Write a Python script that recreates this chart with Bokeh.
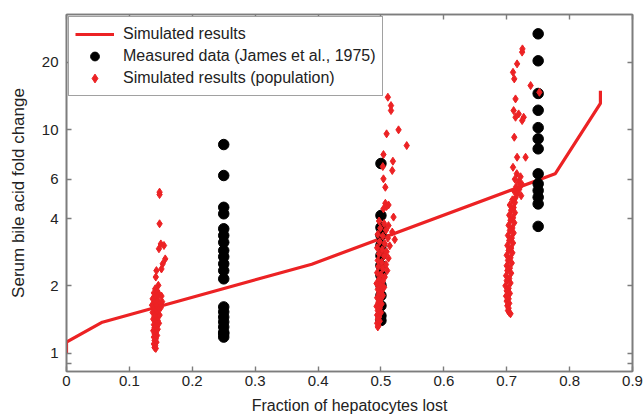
from bokeh.plotting import figure
from bokeh.models import (Range1d, FixedTicker, LogAxis, LinearAxis, Legend, LegendItem,
                          CustomJSTickFormatter)
from bokeh.embed import file_html
from bokeh.resources import INLINE

# ---- data ----
line_x = [0.0, 0.0, 0.057, 0.39, 0.777, 0.849, 0.849]
line_y = [1.0, 1.12, 1.376, 2.5, 6.34, 13.1, 14.9]

meas_x = [0.25] * 20 + [0.5] * 13 + [0.75] * 13
meas_y = [8.57, 6.23, 4.49, 4.20, 3.60, 3.36, 3.13, 2.88, 2.70, 2.51, 2.34, 2.15,
          1.61, 1.53, 1.45, 1.38, 1.31, 1.24, 1.18, 1.22,
          7.05, 4.13, 3.65, 3.37, 3.03, 2.73, 2.47, 2.23, 2.01, 1.81, 1.63, 1.47, 1.40,
          26.8, 20.3, 14.5, 12.2, 10.2, 9.09, 8.20, 6.34, 5.72, 5.34, 4.98, 4.65, 3.69]

pop1_x = [0.148, 0.148, 0.148, 0.150, 0.155, 0.147, 0.157, 0.153, 0.151, 0.143, 0.142, 0.146, 0.141,
          0.144, 0.139, 0.147, 0.151, 0.142, 0.137, 0.145, 0.152, 0.140, 0.148, 0.136, 0.143, 0.150,
          0.139, 0.146, 0.141, 0.137, 0.144, 0.148, 0.140, 0.143, 0.138, 0.145, 0.141, 0.147, 0.139,
          0.143, 0.140, 0.145, 0.138, 0.142, 0.140, 0.144, 0.139, 0.142, 0.140, 0.143, 0.139, 0.141,
          0.140, 0.142]
pop1_y = [5.25, 5.12, 3.79, 3.08, 3.03, 2.93, 2.64, 2.51, 2.38, 2.34, 2.19, 2.01, 1.94,
          1.90, 1.86, 1.84, 1.80, 1.78, 1.75, 1.73, 1.70, 1.68, 1.66, 1.64, 1.62, 1.60,
          1.58, 1.56, 1.54, 1.52, 1.50, 1.48, 1.46, 1.44, 1.42, 1.40, 1.38, 1.36, 1.34,
          1.32, 1.30, 1.28, 1.26, 1.24, 1.22, 1.20, 1.18, 1.16, 1.14, 1.12, 1.10, 1.08,
          1.06, 1.05]

pop2_x = [0.511, 0.516, 0.516, 0.528, 0.509, 0.541, 0.504, 0.519, 0.503, 0.518, 0.504, 0.507,
          0.507, 0.512, 0.509, 0.504, 0.520,
          0.497, 0.505, 0.512, 0.499, 0.508, 0.518, 0.495, 0.503, 0.511, 0.522, 0.498, 0.506,
          0.514, 0.494, 0.502, 0.509, 0.497, 0.505, 0.512, 0.495, 0.501, 0.508, 0.496, 0.503,
          0.510, 0.494, 0.500, 0.506, 0.497, 0.503, 0.493, 0.499, 0.505, 0.495, 0.501, 0.497,
          0.503, 0.494, 0.499, 0.496, 0.501, 0.493, 0.498, 0.495, 0.500, 0.494, 0.497, 0.495,
          0.498, 0.494, 0.496, 0.495]
pop2_y = [13.95, 12.8, 12.16, 9.97, 9.57, 8.48, 7.73, 7.22, 6.83, 6.56, 6.02, 5.52,
          4.68, 4.60, 4.53, 4.42, 4.06,
          3.90, 3.80, 3.72, 3.62, 3.55, 3.48, 3.40, 3.34, 3.27, 3.22, 3.15, 3.09,
          3.02, 2.96, 2.90, 2.84, 2.78, 2.72, 2.66, 2.60, 2.55, 2.49, 2.44, 2.39,
          2.34, 2.29, 2.24, 2.19, 2.14, 2.10, 2.05, 2.01, 1.97, 1.93, 1.89, 1.85,
          1.81, 1.77, 1.73, 1.69, 1.66, 1.62, 1.59, 1.55, 1.52, 1.48, 1.45, 1.42,
          1.39, 1.36, 1.33, 1.31]

pop3_x = [0.725, 0.7245, 0.7165, 0.710, 0.712, 0.738, 0.752, 0.714, 0.711, 0.719, 0.727, 0.7245,
          0.714, 0.712, 0.7165, 0.730, 0.710,
          0.716, 0.722, 0.713, 0.719, 0.724, 0.715, 0.720, 0.712, 0.717, 0.723, 0.714,
          0.709, 0.713, 0.705, 0.711, 0.707, 0.713, 0.704, 0.710, 0.706, 0.712, 0.703, 0.709,
          0.705, 0.711, 0.702, 0.708, 0.704, 0.710, 0.701, 0.707, 0.703, 0.709, 0.700, 0.706,
          0.702, 0.708, 0.700, 0.705, 0.701, 0.707, 0.699, 0.704, 0.700, 0.706, 0.698, 0.703,
          0.700, 0.705, 0.699, 0.703, 0.700, 0.704, 0.701, 0.703, 0.702, 0.704, 0.706]
pop3_y = [22.95, 22.2, 19.67, 18.03, 16.85, 15.73, 14.68, 13.71, 12.16, 11.75, 11.35, 10.97,
          11.35, 9.24, 7.52, 7.52, 6.78,
          6.35, 6.15, 6.00, 5.85, 5.70, 5.55, 5.42, 5.30, 5.18, 5.06, 4.96,
          4.85, 4.72, 4.60, 4.48, 4.36, 4.25, 4.14, 4.03, 3.93, 3.83, 3.73, 3.63,
          3.54, 3.45, 3.36, 3.27, 3.19, 3.11, 3.03, 2.95, 2.88, 2.81, 2.74, 2.67,
          2.60, 2.53, 2.46, 2.40, 2.34, 2.28, 2.22, 2.16, 2.11, 2.06, 2.00, 1.95,
          1.90, 1.85, 1.80, 1.75, 1.71, 1.67, 1.63, 1.59, 1.55, 1.52, 1.50]

pop_x = pop1_x + pop2_x + pop3_x
pop_y = pop1_y + pop2_y + pop3_y

x_ticks = [0, 0.1, 0.2, 0.3, 0.4, 0.5, 0.6, 0.7, 0.8, 0.9]
y_ticks = [0.9, 1, 2, 4, 6, 10, 20]

RED = "#ec2224"
GRAY = "#7d7d7d"
FONT = "Liberation Sans"

p = figure(width=643, height=418, x_range=Range1d(0, 0.9), y_range=Range1d(0.828, 32.7),
           y_axis_type="log", output_backend="svg", toolbar_location=None,
           min_border_left=66, min_border_right=11, min_border_top=14, min_border_bottom=47)
p.grid.visible = False
p.outline_line_color = GRAY
p.outline_line_width = 1.6

xfmt = CustomJSTickFormatter(code="return tick === 0 ? '0' : tick.toFixed(1);")
yfmt = CustomJSTickFormatter(code="return tick < 0.95 ? '' : String(Math.round(tick));")
blank = CustomJSTickFormatter(code="return '';")

def style(ax, show):
    ax.axis_line_color = GRAY
    ax.axis_line_width = 1.6
    ax.major_tick_line_color = GRAY
    ax.major_tick_line_width = 1.4
    ax.major_tick_in = 5
    ax.major_tick_out = 0
    ax.minor_tick_in = 0
    ax.minor_tick_out = 0
    ax.major_label_text_font = FONT
    ax.major_label_text_font_size = "15px"
    ax.major_label_text_color = "#222222"
    if not show:
        ax.major_label_standoff = 0

p.xaxis.ticker = FixedTicker(ticks=x_ticks)
p.xaxis.formatter = xfmt
p.yaxis.ticker = FixedTicker(ticks=y_ticks)
p.yaxis.formatter = yfmt
style(p.xaxis[0], True)
style(p.yaxis[0], True)
p.xaxis.major_label_standoff = 4
p.yaxis.major_label_standoff = 8
p.xaxis.axis_label = "Fraction of hepatocytes lost"
p.yaxis.axis_label = "Serum bile acid fold change"
for ax in (p.xaxis[0], p.yaxis[0]):
    ax.axis_label_text_font = FONT
    ax.axis_label_text_font_style = "normal"
    ax.axis_label_text_color = "#222222"
p.xaxis.axis_label_text_font_size = "16px"
p.yaxis.axis_label_text_font_size = "17px"
p.xaxis.axis_label_standoff = 8
p.yaxis.axis_label_standoff = 11

top = LinearAxis(ticker=FixedTicker(ticks=x_ticks), formatter=blank)
right = LogAxis(ticker=FixedTicker(ticks=y_ticks), formatter=blank)
style(top, False)
style(right, False)
p.add_layout(top, "above")
p.add_layout(right, "right")

r_line = p.line(line_x, line_y, line_color=RED, line_width=3.2)
r_meas = p.scatter(meas_x, meas_y, marker="circle", size=10.5, fill_color="black",
                   line_color="black")
r_pop = p.scatter(pop_x, pop_y, marker="diamond", size=8, fill_color=RED, line_color=RED)

legend = Legend(items=[
    LegendItem(label="Simulated results", renderers=[r_line]),
    LegendItem(label="Measured data (James et al., 1975)", renderers=[r_meas]),
    LegendItem(label="Simulated results (population)", renderers=[r_pop]),
], location="top_left")
legend.margin = 2
legend.padding = 6
legend.spacing = 0
legend.glyph_width = 39
legend.glyph_height = 22
legend.label_height = 22
legend.label_standoff = 9
legend.label_text_font = FONT
legend.label_text_font_size = "16px"
legend.label_text_color = "#222222"
legend.border_line_color = "#444444"
legend.border_line_width = 1.5
legend.background_fill_alpha = 1
p.add_layout(legend)

open("out.html", "w").write(file_html(p, INLINE))
